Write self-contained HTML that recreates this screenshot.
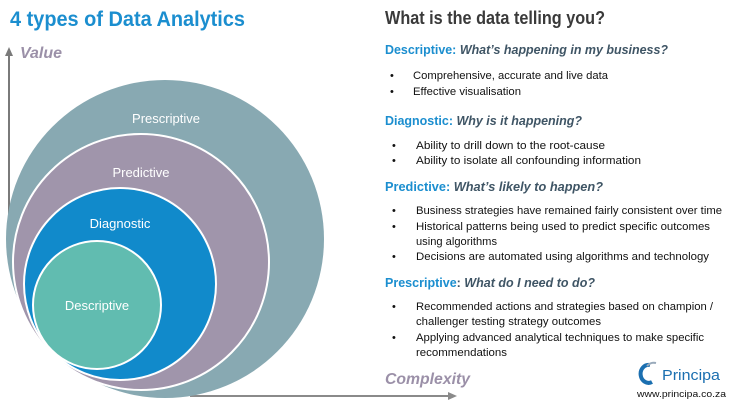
<!DOCTYPE html>
<html><head><style>body{margin:0;background:#fff}svg{display:block}</style></head><body>
<svg width="734" height="406" xmlns="http://www.w3.org/2000/svg" font-family="'Liberation Sans',sans-serif">
<rect width="734" height="406" fill="#fff"/>
<text x="10" y="26" font-size="21" font-weight="bold" fill="#1b8ecf" textLength="235" lengthAdjust="spacingAndGlyphs">4 types of Data Analytics</text>
<line x1="9" y1="232" x2="9" y2="54" stroke="#7a7a7a" stroke-width="2"/>
<polygon points="5,56 13,56 9,47" fill="#7a7a7a"/>
<text x="20" y="58" font-size="16" font-weight="bold" font-style="italic" fill="#9b90a8" textLength="42" lengthAdjust="spacingAndGlyphs">Value</text>
<line x1="190" y1="396" x2="450" y2="396" stroke="#8a8a8a" stroke-width="2"/>
<polygon points="448,392 448,400 457,396" fill="#8a8a8a"/>
<text x="385" y="384" font-size="16" font-weight="bold" font-style="italic" fill="#9b90a8" textLength="85" lengthAdjust="spacingAndGlyphs">Complexity</text>
<circle cx="165" cy="239" r="159" fill="#88a9b2"/>
<circle cx="141" cy="262" r="128" fill="#a095ab" stroke="#fff" stroke-width="2"/>
<circle cx="120" cy="284" r="96" fill="#118acb" stroke="#fff" stroke-width="2"/>
<circle cx="97" cy="305" r="64" fill="#61bcb0" stroke="#fff" stroke-width="2"/>
<g fill="#fff" font-size="13" text-anchor="middle">
<text x="166" y="123">Prescriptive</text>
<text x="141" y="177">Predictive</text>
<text x="120" y="228">Diagnostic</text>
<text x="97" y="310">Descriptive</text>
</g>
<text x="385" y="24" font-size="18" font-weight="bold" fill="#3a3a3a" textLength="220" lengthAdjust="spacingAndGlyphs">What is the data telling you?</text>
<g font-size="13" font-weight="bold">
<text x="385" y="54" textLength="283" lengthAdjust="spacingAndGlyphs"><tspan fill="#1b8ecf">Descriptive: </tspan><tspan fill="#3f5565" font-style="italic">What’s happening in my business?</tspan></text>
<text x="385" y="125" textLength="197" lengthAdjust="spacingAndGlyphs"><tspan fill="#1b8ecf">Diagnostic: </tspan><tspan fill="#3f5565" font-style="italic">Why is it happening?</tspan></text>
<text x="385" y="191" textLength="218" lengthAdjust="spacingAndGlyphs"><tspan fill="#1b8ecf">Predictive: </tspan><tspan fill="#3f5565" font-style="italic">What’s likely to happen?</tspan></text>
<text x="385" y="287" textLength="210" lengthAdjust="spacingAndGlyphs"><tspan fill="#1b8ecf">Prescriptive</tspan><tspan fill="#3f5565">: </tspan><tspan fill="#3f5565" font-style="italic">What do I need to do?</tspan></text>
</g>
<g font-size="11" fill="#111">
<text x="390" y="79">•</text><text x="413" y="79" textLength="195" lengthAdjust="spacingAndGlyphs">Comprehensive, accurate and live data</text>
<text x="390" y="95">•</text><text x="413" y="95" textLength="108" lengthAdjust="spacingAndGlyphs">Effective visualisation</text>
<text x="392" y="149">•</text><text x="416" y="149" textLength="189" lengthAdjust="spacingAndGlyphs">Ability to drill down to the root-cause</text>
<text x="392" y="164">•</text><text x="416" y="164" textLength="225" lengthAdjust="spacingAndGlyphs">Ability to isolate all confounding information</text>
<text x="392" y="214">•</text><text x="416" y="214" textLength="306" lengthAdjust="spacingAndGlyphs">Business strategies have remained fairly consistent over time</text>
<text x="392" y="230">•</text><text x="416" y="230" textLength="294" lengthAdjust="spacingAndGlyphs">Historical patterns being used to predict specific outcomes</text>
<text x="416" y="245" textLength="81" lengthAdjust="spacingAndGlyphs">using algorithms</text>
<text x="392" y="260">•</text><text x="416" y="260" textLength="293" lengthAdjust="spacingAndGlyphs">Decisions are automated using algorithms and technology</text>
<text x="392" y="310">•</text><text x="416" y="310" textLength="297" lengthAdjust="spacingAndGlyphs">Recommended actions and strategies based on champion /</text>
<text x="416" y="325" textLength="185" lengthAdjust="spacingAndGlyphs">challenger testing strategy outcomes</text>
<text x="392" y="341">•</text><text x="416" y="341" textLength="288" lengthAdjust="spacingAndGlyphs">Applying advanced analytical techniques to make specific</text>
<text x="416" y="356" textLength="91" lengthAdjust="spacingAndGlyphs">recommendations</text>
</g>
<path d="M650 365 A8 9 0 1 0 652 382" fill="none" stroke="#1b6fb0" stroke-width="4"/>
<path d="M647 366 A9 9 0 0 1 656 363" fill="none" stroke="#9ab" stroke-width="2"/>
<text x="662" y="380" font-size="15" fill="#1b6fb0" textLength="58" lengthAdjust="spacingAndGlyphs">Principa</text>
<text x="637" y="397" font-size="9" fill="#111" textLength="89" lengthAdjust="spacingAndGlyphs">www.principa.co.za</text>
</svg>
</body></html>
